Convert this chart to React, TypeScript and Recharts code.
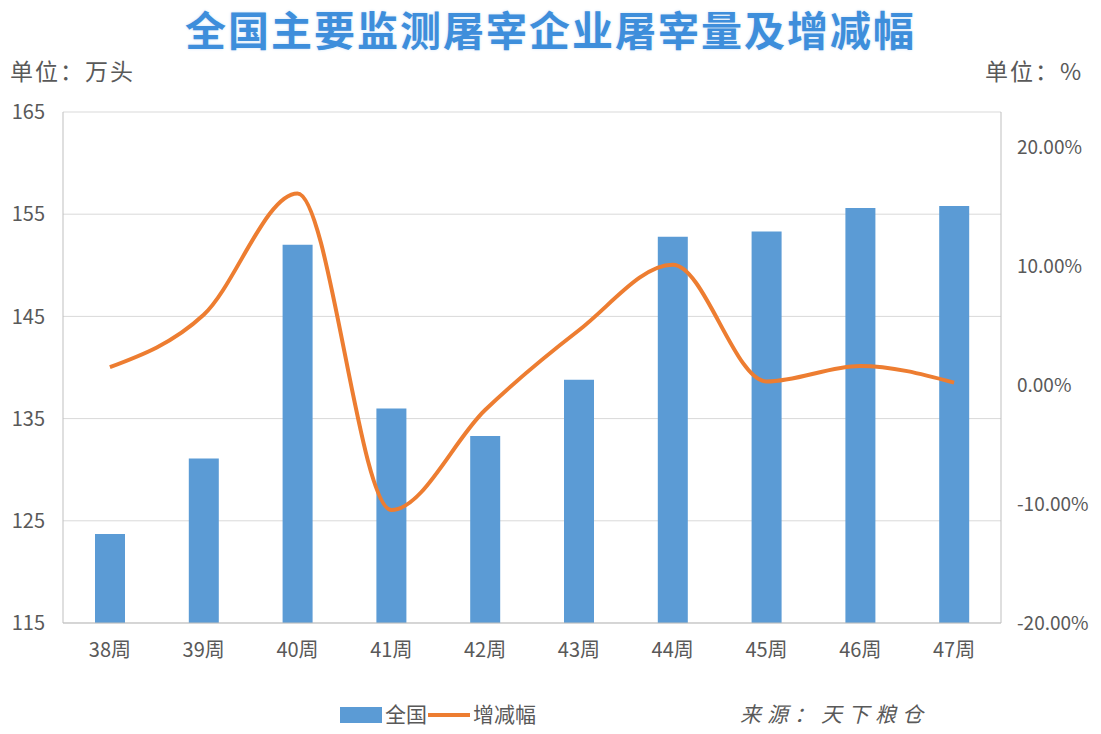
import React from "react";
import { ComposedChart, Bar, Line, XAxis, YAxis, CartesianGrid, Legend } from "recharts";

const weeks = ["38周", "39周", "40周", "41周", "42周", "43周", "44周", "45周", "46周", "47周"];
const slaughter = [123.7, 131.1, 152.0, 136.0, 133.3, 138.8, 152.8, 153.3, 155.6, 155.8];
const change = [0.015, 0.059, 0.161, -0.105, -0.021, 0.046, 0.101, 0.003, 0.016, 0.002];
const leftTicks = [115, 125, 135, 145, 155, 165];
const rightTicks = [-0.2, -0.1, 0, 0.1, 0.2];

const data = weeks.map((w, i) => ({ week: w, total: slaughter[i], rate: change[i] }));

const FONT = '"Noto Sans CJK SC", "Noto Sans", sans-serif';
const TEXT = "#595959";

const LegendContent = () => (
    <div style={{ position: "relative", height: 40, fontFamily: FONT }}>
        <div style={{ position: "absolute", left: 340, top: 13, width: 42, height: 16, background: "#5b9bd5" }} />
        <span style={{ position: "absolute", left: 385, top: 4, fontSize: 21, color: TEXT }}>全国</span>
        <div style={{ position: "absolute", left: 428, top: 19, width: 42, height: 4, background: "#ed7d31" }} />
        <span style={{ position: "absolute", left: 473, top: 4, fontSize: 21, color: TEXT }}>增减幅</span>
        <span style={{ position: "absolute", left: 740, top: 4, fontSize: 21, color: TEXT, fontStyle: "italic", letterSpacing: 6 }}>来源：天下粮仓</span>
    </div>
);

const App: React.FC = () => {
    return (
        <div style={{ position: "relative", width: 1101, height: 734, margin: -8, background: "#fff", fontFamily: FONT }}>
            <div
                style={{
                    position: "absolute",
                    left: 0,
                    width: 1101,
                    top: 3,
                    lineHeight: "50px",
                    textAlign: "center",
                    fontSize: 41,
                    fontWeight: 700,
                    color: "#3e8edb",
                    textShadow: "0 0 3px #cfe3f7",
                    letterSpacing: 2,
                }}
            >
                全国主要监测屠宰企业屠宰量及增减幅
            </div>
            <div style={{ position: "absolute", left: 10, top: 55, lineHeight: "30px", fontSize: 23, color: TEXT, letterSpacing: 2 }}>单位：万头</div>
            <div style={{ position: "absolute", left: 985, top: 55, lineHeight: "30px", fontSize: 23, color: TEXT, letterSpacing: 2 }}>单位：%</div>
            <ComposedChart
                width={1101}
                height={734}
                data={data}
                margin={{ top: 112, right: 0, bottom: 0, left: 0 }}
                style={{ position: "absolute", left: 0, top: 0 }}
            >
                <CartesianGrid yAxisId="left" vertical={false} stroke="#d9d9d9" />
                <XAxis
                    dataKey="week"
                    height={71}
                    tickLine={false}
                    axisLine={{ stroke: "#bfbfbf" }}
                    tick={{ fill: TEXT, fontSize: 20, fontFamily: FONT }}
                    tickMargin={14}
                />
                <YAxis
                    yAxisId="left"
                    width={63}
                    domain={[115, 165]}
                    ticks={leftTicks}
                    allowDataOverflow
                    tickLine={false}
                    axisLine={{ stroke: "#bfbfbf" }}
                    tick={{ fill: TEXT, fontSize: 20, fontFamily: FONT }}
                    tickMargin={12}
                />
                <YAxis
                    yAxisId="right"
                    orientation="right"
                    width={100}
                    domain={[-0.2, 0.2294]}
                    ticks={rightTicks}
                    allowDataOverflow
                    tickLine={false}
                    axisLine={{ stroke: "#bfbfbf" }}
                    tick={{ fill: TEXT, fontSize: 19, fontFamily: FONT }}
                    tickMargin={10}
                    tickFormatter={(v: number) => (v * 100).toFixed(2) + "%"}
                />
                <Legend verticalAlign="bottom" height={40} content={<LegendContent />} wrapperStyle={{ bottom: 0, left: 0, width: 1101 }} />
                <Bar yAxisId="left" dataKey="total" name="全国" fill="#5b9bd5" barSize={30} isAnimationActive={false} />
                <Line
                    yAxisId="right"
                    dataKey="rate"
                    name="增减幅"
                    type="monotone"
                    stroke="#ed7d31"
                    strokeWidth={4}
                    dot={false}
                    isAnimationActive={false}
                />
            </ComposedChart>
        </div>
    );
};

export default App;
